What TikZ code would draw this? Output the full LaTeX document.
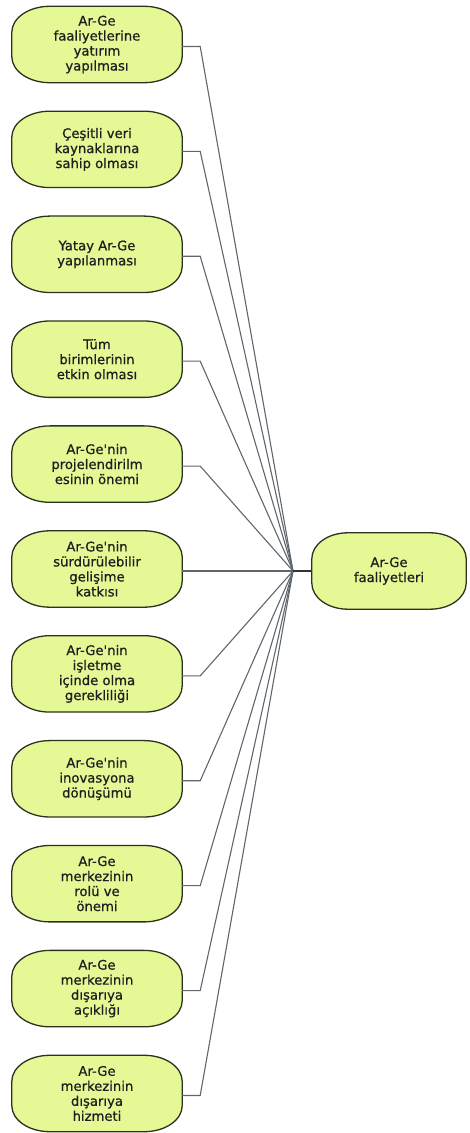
\documentclass[tikz,border=0pt]{standalone}
\usepackage{fontspec}
\setmainfont{DejaVu Sans}
\newfontfamily\boxfont[FakeBold=0.7]{DejaVu Sans}
\usetikzlibrary{calc}
\pgfdeclarelayer{background}
\pgfsetlayers{background,main}

\definecolor{blobfill}{RGB}{228,248,150}
\definecolor{blobedge}{RGB}{45,50,30}
\definecolor{wire}{RGB}{95,102,110}
\definecolor{inktext}{RGB}{30,30,30}

\tikzset{
  topic/.style={minimum width=170pt, minimum height=76pt, inner sep=0pt,
    align=center, text=inktext, font=\boxfont\fontsize{13.2}{15}\selectfont},
  hubnode/.style={topic, minimum width=154pt},
  boxline/.style={draw=blobedge, fill=blobfill, line width=1.3pt},
  wireline/.style={draw=wire, line width=1.1pt},
  hubline/.style={draw=black!80, line width=1.6pt},
}

% soft box with elliptical corners around a named node
\newcommand{\softbox}[3]{%
  \path[boxline] ($(#1.north west)+(0pt,-#3)$) -- ($(#1.south west)+(0pt,#3)$)
    arc[start angle=180,end angle=270,x radius=#2,y radius=#3]
    -- ($(#1.south east)+(-#2,0pt)$)
    arc[start angle=270,end angle=360,x radius=#2,y radius=#3]
    -- ($(#1.north east)+(0pt,-#3)$)
    arc[start angle=0,end angle=90,x radius=#2,y radius=#3]
    -- ($(#1.north west)+(#2,0pt)$)
    arc[start angle=90,end angle=180,x radius=#2,y radius=#3] -- cycle;}

\begin{document}
\begin{tikzpicture}[x=1pt,y=1pt]
\useasboundingbox (0,0) rectangle (470,1133);

\node[topic] (a1)  at (97,1088.5) {Ar-Ge\\faaliyetlerine\\yatırım\\yapılması};
\node[topic] (a2)  at (97,983.6) {Çeşitli veri\\kaynaklarına\\sahip olması};
\node[topic] (a3)  at (97,878.7) {Yatay Ar-Ge\\yapılanması};
\node[topic] (a4)  at (97,773.8) {Tüm\\birimlerinin\\etkin olması};
\node[topic] (a5)  at (97,668.9) {Ar-Ge'nin\\projelendirilm\\esinin önemi};
\node[topic] (a6)  at (97,564.0) {Ar-Ge'nin\\sürdürülebilir\\gelişime\\katkısı};
\node[topic] (a7)  at (97,459.1) {Ar-Ge'nin\\işletme\\içinde olma\\gerekliliği};
\node[topic] (a8)  at (97,354.2) {Ar-Ge'nin\\inovasyona\\dönüşümü};
\node[topic] (a9)  at (97,249.3) {Ar-Ge\\merkezinin\\rolü ve\\önemi};
\node[topic] (a10) at (97,144.4) {Ar-Ge\\merkezinin\\dışarıya\\açıklığı};
\node[topic] (a11) at (97,39.5) {Ar-Ge\\merkezinin\\dışarıya\\hizmeti};

\node[hubnode] (main) at (389,562) {Ar-Ge\\faaliyetleri};
\coordinate (hub) at (293,562);

\begin{pgfonlayer}{background}
  \foreach \n in {a1,a2,a3,a4,a5,a6,a7,a8,a9,a10,a11} {
    \softbox{\n}{38pt}{26pt}
    \draw[wireline] ([yshift=-2pt]\n.east) -- ++(18pt,0pt) -- (hub);
  }
  \softbox{main}{36pt}{26pt}
  \draw[hubline] (hub) -- (main.west);
\end{pgfonlayer}
\end{tikzpicture}
\end{document}
